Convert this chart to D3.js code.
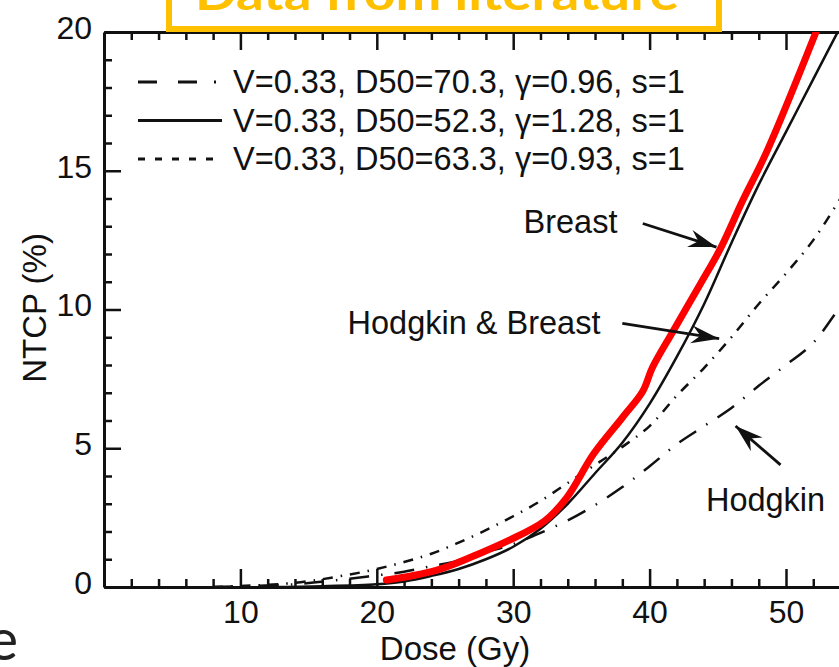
<!DOCTYPE html>
<html lang="en">
<head>
  <meta charset="UTF-8">
  <title>NTCP vs Dose</title>
  <style>
    body { margin: 0; background: #fff; }
    svg { display: block; font-family: "Liberation Sans", Arial, sans-serif; }
    .curve { fill: none; stroke: #111; stroke-width: 2.5px; }
    .axis path, .axis line { stroke: #111; }
    .axis path { stroke-width: 3px; }
    .axis line { stroke-width: 2.5px; }
  </style>
</head>
<body>
  <svg id="chart" width="839" height="667"></svg>
  <script src="https://cdn.jsdelivr.net/npm/d3@7"></script>
  <script>
    // values (dose in Gy, NTCP in %)
    const breastDose = [12, 16, 20, 22, 24, 26, 28, 30, 32, 34, 36, 38, 40, 42, 44, 46, 48, 50, 52, 54];
    const breastNtcp = [0, 0.03, 0.1, 0.2, 0.4, 0.65, 1.0, 1.45, 2.1, 3.0, 4.1, 5.2, 6.6, 8.3, 10.2, 12.4, 14.5, 16.4, 18.3, 20.2];

    const hbDose = [8, 14, 18, 20, 22, 24, 26, 28, 30, 32, 34, 36, 38, 40, 42, 44, 46, 48, 50, 52, 54, 56];
    const hbNtcp = [0, 0.15, 0.45, 0.65, 0.9, 1.2, 1.6, 2.05, 2.55, 3.1, 3.75, 4.4, 5.05, 5.8, 6.9, 7.9, 9.0, 10.2, 11.3, 12.5, 14.0, 15.5];

    const hodgDose = [8, 14, 18, 20, 22, 24, 26, 28, 30, 32, 34, 36, 38, 40, 42, 44, 46, 48, 50, 52, 54, 56];
    const hodgNtcp = [0, 0.1, 0.3, 0.42, 0.55, 0.75, 0.95, 1.25, 1.55, 1.95, 2.4, 2.95, 3.6, 4.35, 5.15, 5.8, 6.45, 7.25, 8.0, 8.8, 10.1, 11.2];

    const fitDose = [20.7, 22, 24, 25.7, 27.5, 29.6, 32.3, 33.9, 35.9, 38, 39.5, 40.2, 41.7, 43.7, 45.2, 46.8, 48.6, 52.2];
    const fitNtcp = [0.25, 0.35, 0.55, 0.83, 1.2, 1.66, 2.38, 3.2, 4.8, 6.1, 7.05, 7.9, 9.2, 10.9, 12.2, 13.9, 15.7, 20];

    const xMajor = [10, 20, 30, 40, 50];
    const yMajor = [0, 5, 10, 15, 20];

    const legendLabels = [
      "V=0.33, D50=70.3, \u03b3=0.96, s=1",
      "V=0.33, D50=52.3, \u03b3=1.28, s=1",
      "V=0.33, D50=63.3, \u03b3=0.93, s=1"
    ];
    const legendDash = ["19,21,19,17,2,17", null, "7,10"];

    // annotation: label text, label anchor, arrow tail and tip (data units)
    const notes = [
      { text: "Breast", anchor: "middle", at: [34.2, 12.75], tail: [39.5, 13.1], tip: [44.9, 12.25] },
      { text: "Hodgkin & Breast", anchor: "end", at: [36.4, 9.1], tail: [38.0, 9.5], tip: [45.1, 8.95] },
      { text: "Hodgkin", anchor: "middle", at: [48.5, 2.75], tail: [49.6, 4.4], tip: [46.3, 5.8] }
    ];

    const svg = d3.select("#chart");

    const x = d3.scaleLinear().domain([0, 60]).range([104, 104 + 60 * 13.64]);
    const y = d3.scaleLinear().domain([0, 20]).range([587, 32]);

    svg.append("defs").append("clipPath").attr("id", "plot")
      .append("rect")
      .attr("x", x(0)).attr("y", y(20))
      .attr("width", x(60) - x(0)).attr("height", y(0) - y(20));

    const styleTicks = g => {
      g.selectAll("text")
        .attr("font-family", "Liberation Sans, Arial, sans-serif")
        .attr("font-size", 32)
        .attr("fill", "#111");
    };

    const xMinor = d3.range(2, 60, 2).filter(v => v % 10 !== 0);
    const yMinor = d3.range(1, 20, 1).filter(v => v % 5 !== 0);

    // bottom axis
    svg.append("g").attr("class", "axis")
      .attr("transform", `translate(0,${y(0)})`)
      .call(d3.axisBottom(x).tickValues(xMajor).tickSize(-18).tickSizeOuter(0).tickPadding(13).tickFormat(d3.format("d")))
      .call(styleTicks);
    svg.append("g").attr("class", "axis")
      .attr("transform", `translate(0,${y(0)})`)
      .call(d3.axisBottom(x).tickValues(xMinor).tickSize(-8).tickSizeOuter(0).tickFormat(""))
      .call(g => g.select(".domain").remove());

    // top axis
    svg.append("g").attr("class", "axis")
      .attr("transform", `translate(0,${y(20)})`)
      .call(d3.axisTop(x).tickValues(xMajor).tickSize(-18).tickSizeOuter(0).tickFormat(""));
    svg.append("g").attr("class", "axis")
      .attr("transform", `translate(0,${y(20)})`)
      .call(d3.axisTop(x).tickValues(xMinor).tickSize(-8).tickSizeOuter(0).tickFormat(""))
      .call(g => g.select(".domain").remove());

    // left axis
    svg.append("g").attr("class", "axis")
      .attr("transform", `translate(${x(0)},0)`)
      .call(d3.axisLeft(y).tickValues(yMajor).tickSize(-17).tickSizeOuter(0).tickPadding(12))
      .call(styleTicks)
      .call(g => g.selectAll("text").attr("dy", "0.2em"));
    svg.append("g").attr("class", "axis")
      .attr("transform", `translate(${x(0)},0)`)
      .call(d3.axisLeft(y).tickValues(yMinor).tickSize(-8).tickSizeOuter(0).tickFormat(""))
      .call(g => g.select(".domain").remove());

    // axis titles
    svg.append("text")
      .attr("x", 455).attr("y", 660)
      .attr("text-anchor", "middle")
      .attr("font-size", 33).attr("fill", "#111")
      .text("Dose (Gy)");
    svg.append("text")
      .attr("transform", `translate(46,${308}) rotate(-90)`)
      .attr("text-anchor", "middle")
      .attr("font-size", 33).attr("fill", "#111")
      .text("NTCP (%)");

    // curves
    const line = d3.line()
      .x(d => x(d[0])).y(d => y(d[1]))
      .curve(d3.curveCatmullRom.alpha(0.5));

    const curves = svg.append("g").attr("clip-path", "url(#plot)");

    curves.append("path").attr("class", "curve")
      .attr("stroke-dasharray", "20,12,1.5,12")
      .attr("d", line(d3.zip(hodgDose, hodgNtcp)));
    curves.append("path").attr("class", "curve")
      .attr("stroke-dasharray", "10,8,1.5,8")
      .attr("d", line(d3.zip(hbDose, hbNtcp)));
    curves.append("path").attr("class", "curve")
      .attr("d", line(d3.zip(breastDose, breastNtcp)));
    curves.append("path")
      .attr("fill", "none").attr("stroke", "#ff0000")
      .attr("stroke-width", 7).attr("stroke-linecap", "round")
      .attr("d", line(d3.zip(fitDose, fitNtcp)));

    // legend
    const legend = svg.append("g");
    legendLabels.forEach((label, i) => {
      const cy = 82 + i * 38.5;
      const ln = legend.append("line")
        .attr("x1", 138).attr("x2", 222)
        .attr("y1", cy).attr("y2", cy)
        .attr("stroke", "#111").attr("stroke-width", 2.8);
      if (legendDash[i]) ln.attr("stroke-dasharray", legendDash[i]);
      legend.append("text")
        .attr("x", 233).attr("y", cy + 11)
        .attr("font-size", 32.5).attr("fill", "#111")
        .text(label);
    });

    // annotations with arrows
    const arrowHead = (tail, tip) => {
      const [x0, y0] = [x(tail[0]), y(tail[1])];
      const [x1, y1] = [x(tip[0]), y(tip[1])];
      const a = Math.atan2(y1 - y0, x1 - x0);
      const len = 28, half = 9, notch = 19;
      const p = (l, w) => [x1 - l * Math.cos(a) - w * Math.sin(a), y1 - l * Math.sin(a) + w * Math.cos(a)];
      return [[x1, y1], p(len, half), p(notch, 0), p(len, -half)];
    };

    notes.forEach(n => {
      svg.append("text")
        .attr("x", x(n.at[0])).attr("y", y(n.at[1]))
        .attr("text-anchor", n.anchor)
        .attr("font-size", 32.5).attr("fill", "#111")
        .text(n.text);
      svg.append("line")
        .attr("x1", x(n.tail[0])).attr("y1", y(n.tail[1]))
        .attr("x2", x(n.tip[0])).attr("y2", y(n.tip[1]))
        .attr("stroke", "#111").attr("stroke-width", 2.8);
      svg.append("path")
        .attr("d", "M" + arrowHead(n.tail, n.tip).join("L") + "Z")
        .attr("fill", "#111");
    });

    // slide title box cut off at the top
    svg.append("rect")
      .attr("x", 169).attr("y", -30)
      .attr("width", 550).attr("height", 59)
      .attr("fill", "#fff").attr("stroke", "#ffc000").attr("stroke-width", 6);
    svg.append("text")
      .attr("x", 195).attr("y", 10)
      .attr("font-family", "Lato, 'Open Sans', sans-serif")
      .attr("font-weight", "bold").attr("font-size", 46)
      .attr("fill", "#ffc000")
      .attr("textLength", 484).attr("lengthAdjust", "spacingAndGlyphs")
      .text("Data from literature");

    // stray letter of the slide text at the left edge
    svg.append("text")
      .attr("x", 18).attr("y", 660)
      .attr("text-anchor", "end")
      .attr("font-family", "Lato, sans-serif")
      .attr("font-size", 58).attr("fill", "#222")
      .text("e");
  </script>
</body>
</html>
